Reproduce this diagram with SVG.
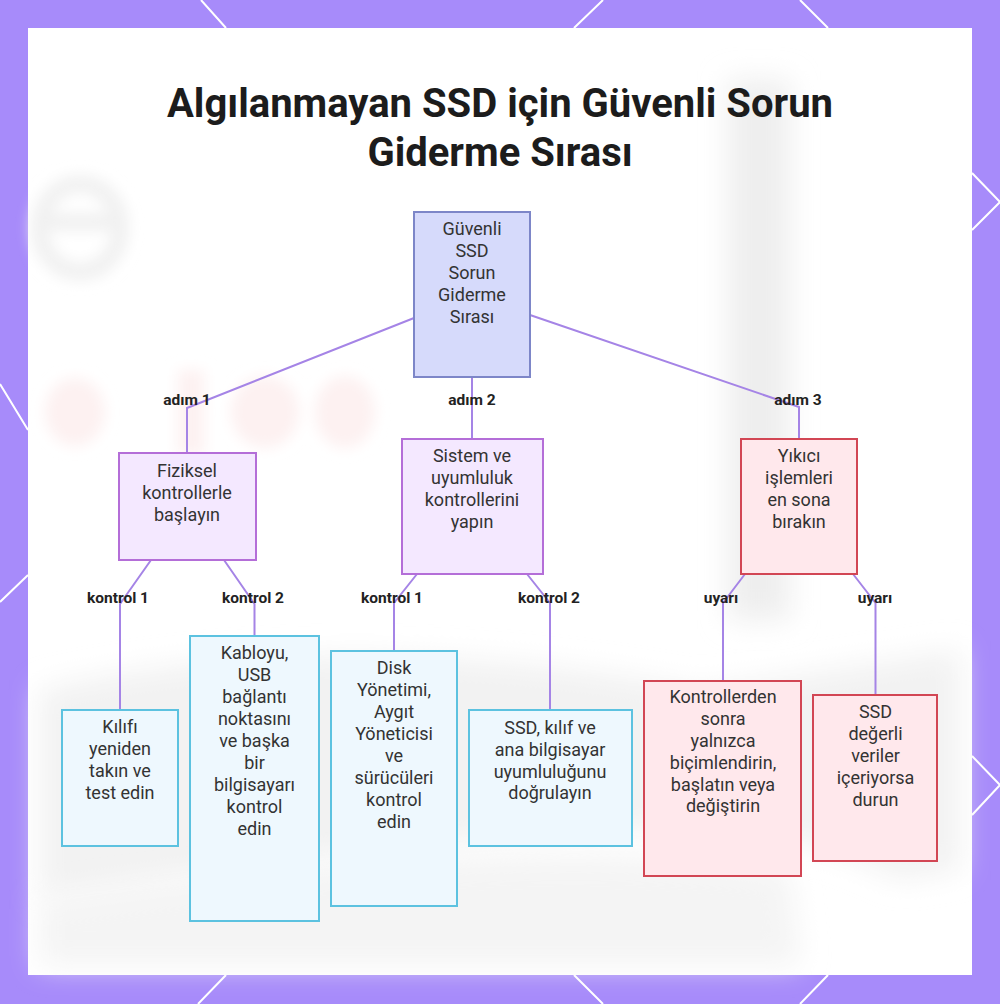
<svg xmlns="http://www.w3.org/2000/svg" width="1000" height="1004" viewBox="0 0 1000 1004">
<defs>
<filter id="blur" x="-50%" y="-50%" width="200%" height="200%"><feGaussianBlur stdDeviation="14"/></filter>
<filter id="blur2" x="-50%" y="-50%" width="200%" height="200%"><feGaussianBlur stdDeviation="7"/></filter>
<style>
.frame-line{stroke:#ffffff;stroke-width:2;fill:none}
.title{font-family:Roboto,"Liberation Sans",sans-serif;font-weight:700;font-size:40px;fill:#1c1c1c;text-anchor:middle}
.node text{font-family:Roboto,"Liberation Sans",sans-serif;font-size:18px;fill:#333333;text-anchor:middle}
.root rect{fill:#d6dafb;stroke:#7d86c8;stroke-width:2}
.step rect{fill:#f4e8ff;stroke:#b46ed8;stroke-width:2}
.check rect{fill:#eef8fe;stroke:#5cc2e0;stroke-width:2}
.warn rect{fill:#ffe8ec;stroke:#d24654;stroke-width:2}
.edge{fill:none;stroke:#a584e6;stroke-width:2}
.lbl{font-family:Roboto,"Liberation Sans",sans-serif;font-weight:700;font-size:15.5px;fill:#222222;text-anchor:middle}
</style>
</defs>
<rect x="0" y="0" width="1000" height="1004" fill="#a78bfa"/>
<g class="frame-line">
<path d="M201,0 L226,28 M603,0 L574,28 M800,0 L828,28"/>
<path d="M972,173 L1000,202 L972,230 M972,756 L1000,785 L972,815"/>
<path d="M0,384 L28,430 M28,575 L0,602"/>
<path d="M226,975 L198,1004 M574,975 L603,1004 M828,975 L800,1004"/>
</g>
<rect x="28" y="28" width="944" height="947" fill="#ffffff"/>
<g>
<rect x="728" y="80" width="62" height="540" fill="#eeeeee" filter="url(#blur)"/>
<path d="M40,690 C250,640 500,650 700,690 L960,650 L960,870 L900,880 C860,860 790,830 700,830 C500,830 300,860 40,900 Z" fill="#f2f2f2" filter="url(#blur)"/>
<path d="M40,900 C300,860 600,840 790,870 L800,965 L40,965 Z" fill="#f4f4f4" filter="url(#blur)"/>
<g fill="none" stroke="#f1f1f1" stroke-width="18" filter="url(#blur2)">
<ellipse cx="80" cy="228" rx="40" ry="44"/>
<path d="M45,222 L118,222"/>
</g>
<g fill="#fdf1f1" filter="url(#blur2)">
<ellipse cx="75" cy="412" rx="30" ry="34"/>
<rect x="178" y="370" width="26" height="85"/>
<ellipse cx="265" cy="412" rx="34" ry="36"/>
<ellipse cx="345" cy="412" rx="30" ry="36"/>
</g>
</g>
<text class="title" x="500" y="117">Algılanmayan SSD için Güvenli Sorun</text>
<text class="title" x="500" y="166">Giderme Sırası</text>
<g id="connectors">
<path class="edge" d="M414,318 L187,408 L187,453"/>
<path class="edge" d="M472,377 L472,439"/>
<path class="edge" d="M530,315 L799,407 L799,439"/>
<path class="edge" d="M151,560 L120,604 L120,710"/>
<path class="edge" d="M224,560 L254.5,604 L254.5,636"/>
<path class="edge" d="M417,574 L394,603 L394,651"/>
<path class="edge" d="M527,574 L550,603 L550,710"/>
<path class="edge" d="M745,574 L723,603 L723,681"/>
<path class="edge" d="M853,574 L875.5,603 L875.5,695"/>
<text class="lbl" x="187" y="405">adım 1</text>
<text class="lbl" x="472" y="405">adım 2</text>
<text class="lbl" x="798" y="405">adım 3</text>
<text class="lbl" x="118" y="603">kontrol 1</text>
<text class="lbl" x="253" y="603">kontrol 2</text>
<text class="lbl" x="392" y="603">kontrol 1</text>
<text class="lbl" x="549" y="603">kontrol 2</text>
<text class="lbl" x="721" y="603">uyarı</text>
<text class="lbl" x="875" y="603">uyarı</text>
</g>
<g id="root" class="node root">
<rect x="414" y="212" width="116" height="165"/>
<text x="472" y="235">Güvenli</text>
<text x="472" y="257">SSD</text>
<text x="472" y="279">Sorun</text>
<text x="472" y="301">Giderme</text>
<text x="472" y="323">Sırası</text>
</g>
<g id="step1" class="node step">
<rect x="119" y="453" width="137" height="107"/>
<text x="187" y="477">Fiziksel</text>
<text x="187" y="499">kontrollerle</text>
<text x="187" y="521">başlayın</text>
</g>
<g id="step2" class="node step">
<rect x="402" y="439" width="141" height="135"/>
<text x="472" y="462">Sistem ve</text>
<text x="472" y="484">uyumluluk</text>
<text x="472" y="506">kontrollerini</text>
<text x="472" y="528">yapın</text>
</g>
<g id="step3" class="node warn">
<rect x="741" y="439" width="116" height="135"/>
<text x="799" y="462">Yıkıcı</text>
<text x="799" y="484">işlemleri</text>
<text x="799" y="506">en sona</text>
<text x="799" y="528">bırakın</text>
</g>
<g id="check1a" class="node check">
<rect x="62" y="710" width="116" height="136"/>
<text x="120" y="733">Kılıfı</text>
<text x="120" y="755">yeniden</text>
<text x="120" y="777">takın ve</text>
<text x="120" y="799">test edin</text>
</g>
<g id="check1b" class="node check">
<rect x="190" y="636" width="129" height="285"/>
<text x="254.5" y="659">Kabloyu,</text>
<text x="254.5" y="681">USB</text>
<text x="254.5" y="703">bağlantı</text>
<text x="254.5" y="725">noktasını</text>
<text x="254.5" y="747">ve başka</text>
<text x="254.5" y="769">bir</text>
<text x="254.5" y="791">bilgisayarı</text>
<text x="254.5" y="813">kontrol</text>
<text x="254.5" y="835">edin</text>
</g>
<g id="check2a" class="node check">
<rect x="331" y="651" width="126" height="255"/>
<text x="394" y="674">Disk</text>
<text x="394" y="696">Yönetimi,</text>
<text x="394" y="718">Aygıt</text>
<text x="394" y="740">Yöneticisi</text>
<text x="394" y="762">ve</text>
<text x="394" y="784">sürücüleri</text>
<text x="394" y="806">kontrol</text>
<text x="394" y="828">edin</text>
</g>
<g id="check2b" class="node check">
<rect x="469" y="710" width="163" height="136"/>
<text x="550" y="734">SSD, kılıf ve</text>
<text x="550" y="756">ana bilgisayar</text>
<text x="550" y="778">uyumluluğunu</text>
<text x="550" y="799">doğrulayın</text>
</g>
<g id="warn1" class="node warn">
<rect x="644" y="681" width="157" height="195"/>
<text x="723" y="703">Kontrollerden</text>
<text x="723" y="725">sonra</text>
<text x="723" y="747">yalnızca</text>
<text x="723" y="769">biçimlendirin,</text>
<text x="723" y="791">başlatın veya</text>
<text x="723" y="812">değiştirin</text>
</g>
<g id="warn2" class="node warn">
<rect x="813" y="695" width="124" height="166"/>
<text x="875.5" y="718">SSD</text>
<text x="875.5" y="740">değerli</text>
<text x="875.5" y="762">veriler</text>
<text x="875.5" y="784">içeriyorsa</text>
<text x="875.5" y="806">durun</text>
</g>
</svg>
